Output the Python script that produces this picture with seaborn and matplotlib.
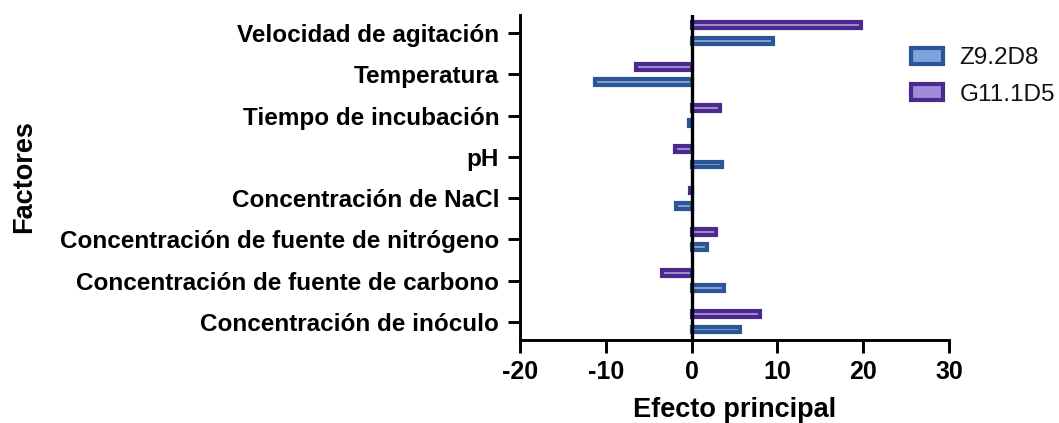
import matplotlib
matplotlib.use("Agg")
import matplotlib.pyplot as plt
import seaborn as sns
import pandas as pd
from matplotlib.patches import Patch

# Main effects of each factor for the two strains
factores = [
    "Velocidad de agitación",
    "Temperatura",
    "Tiempo de incubación",
    "pH",
    "Concentración de NaCl",
    "Concentración de fuente de nitrógeno",
    "Concentración de fuente de carbono",
    "Concentración de inóculo",
]
efecto_z92d8 = [9.5, -11.2, -0.3, 3.6, -1.8, 1.8, 3.8, 5.6]
efecto_g111d5 = [19.8, -6.5, 3.3, -1.9, -0.2, 2.8, -3.5, 8.0]
cepas = ["G11.1D5", "Z9.2D8"]
x_ticks = [-20, -10, 0, 10, 20, 30]

sns.set_theme(style="white")
plt.rcParams["font.family"] = ["Liberation Sans", "DejaVu Sans"]

df = pd.DataFrame({
    "Factor": factores * 2,
    "Efecto": efecto_g111d5 + efecto_z92d8,
    "Cepa": ["G11.1D5"] * len(factores) + ["Z9.2D8"] * len(factores),
})

edge_cols = {"G11.1D5": "#4A2A8E", "Z9.2D8": "#2A5597"}
fill_cols = {"G11.1D5": "#A48AD8", "Z9.2D8": "#7FA2DB"}

fig = plt.figure(figsize=(10.59, 4.23), dpi=100)
ax = fig.add_axes([0.491, 0.196, 0.405, 0.769])

sns.barplot(data=df, y="Factor", x="Efecto", hue="Cepa", hue_order=cepas,
            order=factores, orient="h", width=0.74, gap=0.62,
            palette=fill_cols, errorbar=None, legend=False, ax=ax)

# dark outline around every bar
for cont, cepa in zip(ax.containers, cepas):
    for bar in cont:
        bar.set_edgecolor(edge_cols[cepa])
        bar.set_linewidth(3.0)

ax.set_xlim(-20, 30)
ax.set_ylim(7.44, -0.44)
ax.set_xticks(x_ticks)
ax.set_xticklabels([str(t) for t in x_ticks])
ax.axvline(0, color="black", lw=2.4, zorder=5)

for side in ["top", "right"]:
    ax.spines[side].set_visible(False)
for side in ["left", "bottom"]:
    ax.spines[side].set_color("black")
    ax.spines[side].set_linewidth(2.1)

ax.tick_params(axis="both", which="major", direction="out", length=9,
               width=2.1, color="black", left=True, bottom=True)
ax.tick_params(axis="y", labelsize=17.5, pad=6)
ax.tick_params(axis="x", labelsize=18, pad=5)
for lab in ax.get_yticklabels() + ax.get_xticklabels():
    lab.set_fontweight("bold")
    lab.set_color("black")

ax.set_xlabel("Efecto principal", fontsize=19.5, fontweight="bold",
              color="black", labelpad=10)
ax.set_ylabel("")
fig.text(0.0227, 0.582, "Factores", rotation=90, fontsize=19.5,
         fontweight="bold", color="black", ha="center", va="center")

handles = [Patch(facecolor=fill_cols[c], edgecolor=edge_cols[c], linewidth=3.0)
           for c in ["Z9.2D8", "G11.1D5"]]
leg = fig.legend(handles, ["Z9.2D8", "G11.1D5"], loc="upper left",
                 bbox_to_anchor=(0.8395, 0.94), frameon=False, fontsize=17.5,
                 handlelength=1.3, handleheight=0.62, labelspacing=0.6,
                 handletextpad=0.7)
for t in leg.get_texts():
    t.set_color("#111111")

fig.savefig("out.png", dpi=100)
